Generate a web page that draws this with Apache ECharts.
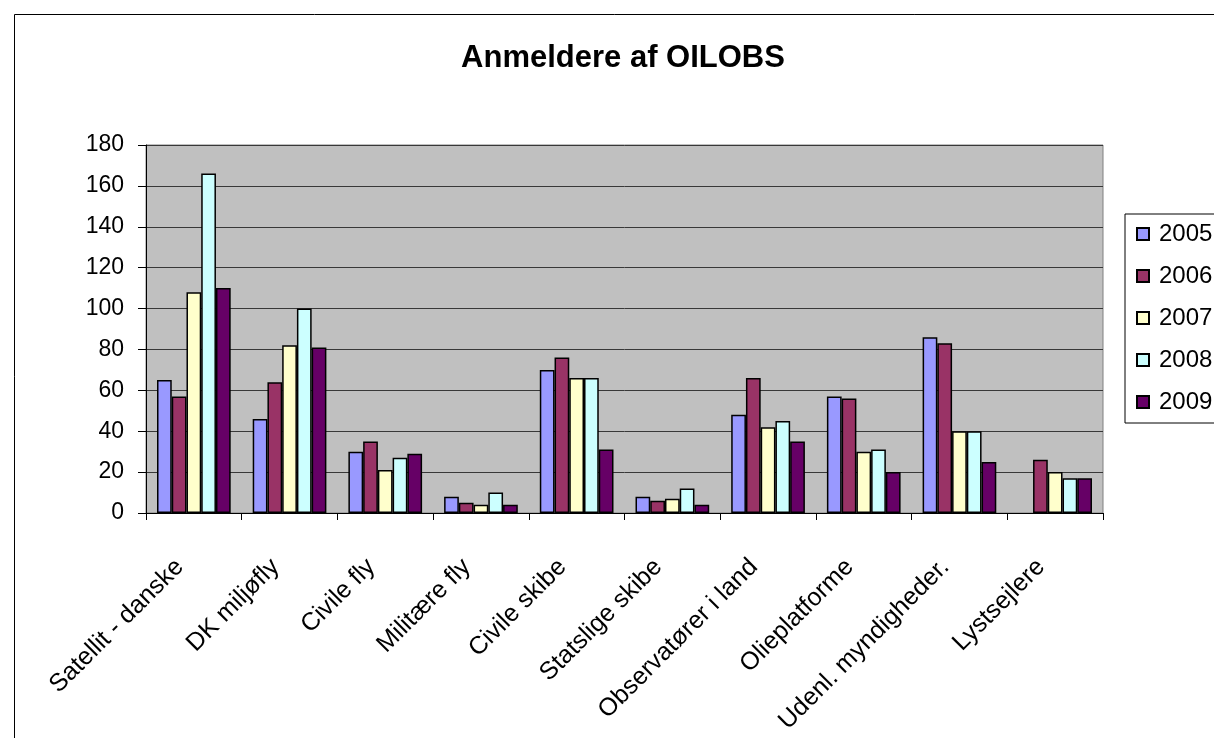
<!DOCTYPE html>
<html>
<head>
<meta charset="utf-8">
<script src="https://cdn.jsdelivr.net/npm/echarts@6/dist/echarts.min.js"></script>
<style>
  html, body { margin: 0; padding: 0; background: #fff; }
  #chart { width: 1214px; height: 738px; }
</style>
</head>
<body>
<div id="chart"></div>
<script>
const categories = ['Satellit - danske', 'DK miljøfly', 'Civile fly', 'Militære fly', 'Civile skibe',
  'Statslige skibe', 'Observatører i land', 'Olieplatforme', 'Udenl. myndigheder.', 'Lystsejlere']
const years = ['2005', '2006', '2007', '2008', '2009']
const v2005 = [65, 46, 30, 8, 70, 8, 48, 57, 86, null]
const v2006 = [57, 64, 35, 5, 76, 6, 66, 56, 83, 26]
const v2007 = [108, 82, 21, 4, 66, 7, 42, 30, 40, 20]
const v2008 = [166, 100, 27, 10, 66, 12, 45, 31, 40, 17]
const v2009 = [110, 81, 29, 4, 31, 4, 35, 20, 25, 17]
const colors = ['#9999FF', '#993366', '#FFFFCC', '#CCFFFF', '#660066']

const echart = echarts.init(document.getElementById('chart'))
const font = 'Liberation Sans, Arial, sans-serif'
const data = [v2005, v2006, v2007, v2008, v2009]

const option = {
    animation: false,
    textStyle: { fontFamily: font },
    title: {
        text: 'Anmeldere af OILOBS',
        left: 618,
        textAlign: 'center',
        top: 38,
        textStyle: { fontSize: 31, fontWeight: 'bold', color: '#000', fontFamily: font }
    },
    graphic: [{
        type: 'rect',
        shape: { x: 14.5, y: 14.5, width: 1220, height: 740 },
        style: { fill: 'none', stroke: '#000', lineWidth: 1 },
        z: -1
    }],
    legend: {
        orient: 'vertical',
        left: 1125,
        top: 214,
        data: years,
        icon: 'rect',
        itemWidth: 12,
        itemHeight: 12,
        itemGap: 18,
        padding: [8, 40, 9, 11],
        borderColor: '#000',
        borderWidth: 1,
        textStyle: { fontSize: 24, color: '#000', fontFamily: font, padding: [0, 0, 0, 5] }
    },
    grid: {
        left: 146,
        right: 111,
        top: 145,
        bottom: 225,
        show: true,
        backgroundColor: '#C0C0C0',
        borderColor: '#808080',
        borderWidth: 1
    },
    xAxis: {
        type: 'category',
        data: categories,
        axisLine: { lineStyle: { color: '#000' } },
        axisTick: { show: true, length: 7, lineStyle: { color: '#000' } },
        axisLabel: { rotate: 45, fontSize: 25, color: '#000', margin: 36, interval: 0, padding: [0, 20, 0, 0] }
    },
    yAxis: {
        type: 'value',
        min: 0,
        max: 180,
        interval: 20,
        axisLine: { show: true, lineStyle: { color: '#000' } },
        axisTick: { show: true, length: 8, lineStyle: { color: '#000' } },
        axisLabel: { fontSize: 23, color: '#000', margin: 22 },
        splitLine: { lineStyle: { color: '#383838', width: 1 } }
    },
    series: years.map((y, i) => ({
        name: y,
        type: 'bar',
        data: data[i],
        barGap: '0%',
        barCategoryGap: '23%',
        itemStyle: { color: colors[i], borderColor: '#000', borderWidth: 1.5 }
    }))
}
echart.setOption(option)
</script>
</body>
</html>
